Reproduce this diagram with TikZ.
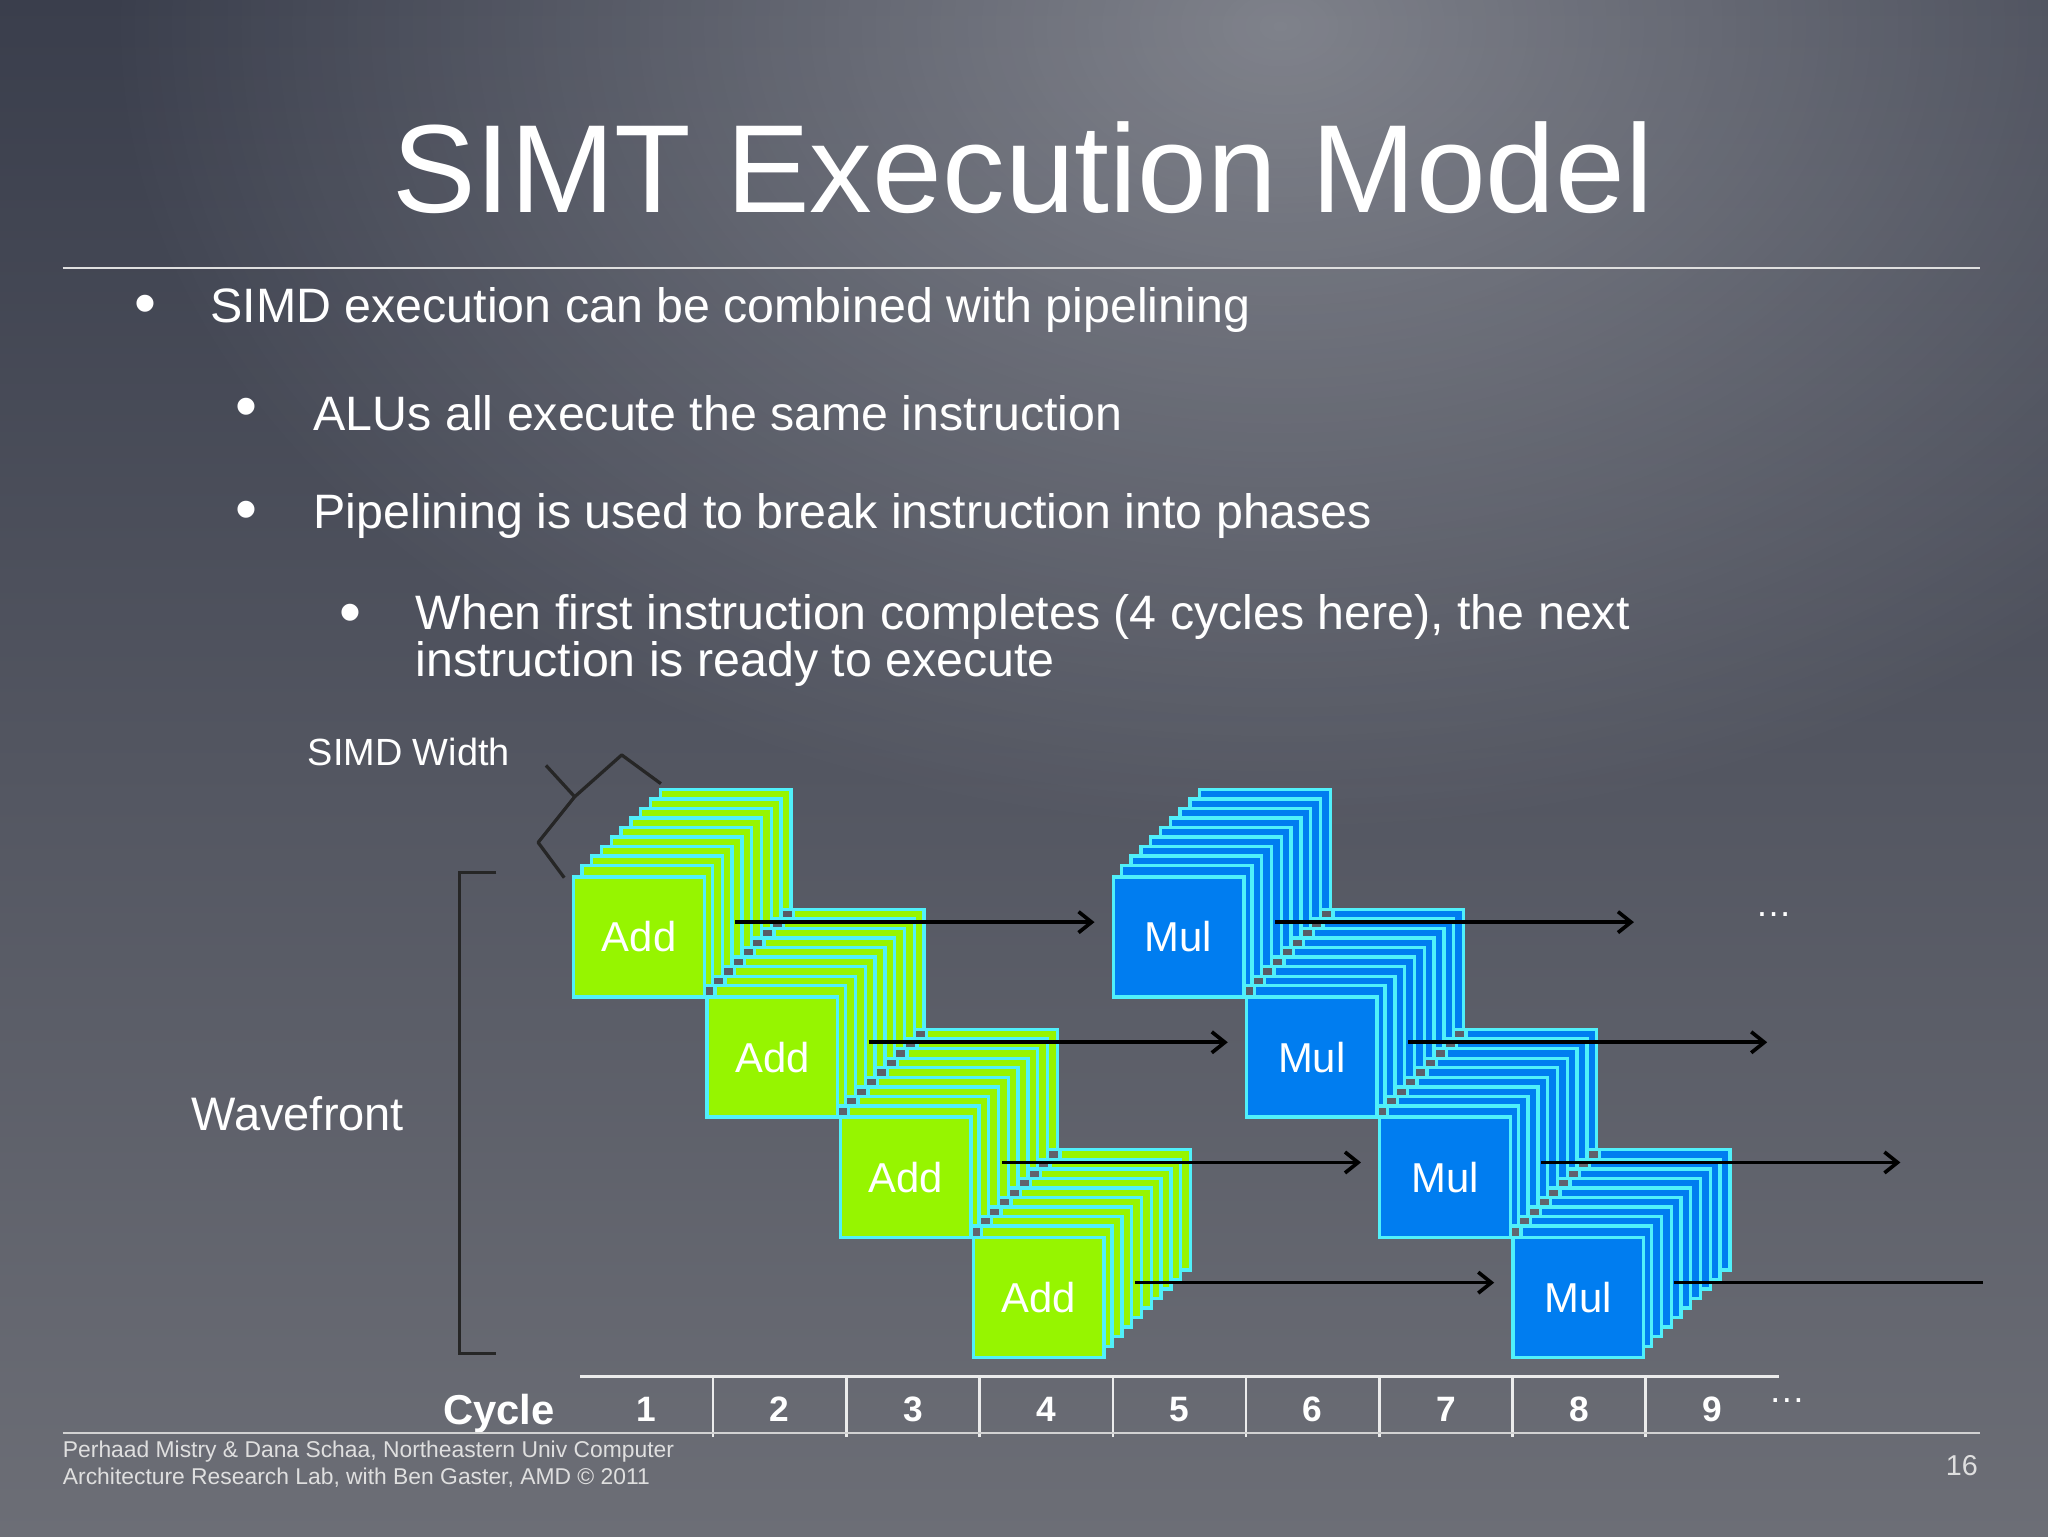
\documentclass[tikz,border=0pt]{standalone}
\usepackage{fontspec}
\setmainfont{Liberation Sans}
\usetikzlibrary{arrows.meta,fadings}
\definecolor{addg}{RGB}{150,245,0}
\definecolor{mulb}{RGB}{0,125,240}
\definecolor{cyanb}{RGB}{80,240,250}
\definecolor{bgtop}{RGB}{58,62,76}
\definecolor{bgbot}{RGB}{108,110,118}
\tikzfading[name=softc, inner color=transparent!0, outer color=transparent!100]
\tikzset{
 layer/.style={draw=cyanb,line width=2.6pt},
 lbl/.style={text=white,font=\fontsize{32}{36}\selectfont},
 arr/.style={-{Straight Barb[length=10pt,width=16pt]},line width=2.8pt,black},
 txt/.style={text=white,anchor=west,inner sep=0pt},
 bul/.style={text=white,font=\fontsize{48}{48}\selectfont},
 num/.style={text=white,font=\fontsize{27}{30}\selectfont\bfseries},
}
\begin{document}
\begin{tikzpicture}[x=1pt,y=-1pt]
\useasboundingbox (0,0) rectangle (1568,1176);
\shade[top color=bgtop,bottom color=bgbot] (0,0) rectangle (1568,1176);
\fill[white,fill opacity=0.35,path fading=softc] (980,20) ellipse (900pt and 620pt);
% title
\node[text=white,font=\fontsize{96}{110}\selectfont] (title) at (783,128) {SIMT Execution Model};
\draw[white!75!gray,line width=1.5pt] (48,205) -- (1516,205);
% bullets
\node[txt,font=\fontsize{37}{40}\selectfont] (b1) at (161,237) {SIMD execution can be combined with pipelining};
\node[bul] (d1) at (111,237) {•};
\node[txt,font=\fontsize{37}{40}\selectfont] (b2) at (240,316) {ALUs all execute the same instruction};
\node[bul] (d2) at (189,316) {•};
\node[txt,font=\fontsize{37}{40}\selectfont] (b3) at (240,395) {Pipelining is used to break instruction into phases};
\node[bul] (d3) at (189,395) {•};
\node[txt,font=\fontsize{37}{36}\selectfont,align=left,anchor=north west] (b4) at (318,455) {When first instruction completes (4 cycles here), the next\\instruction is ready to execute};
\node[bul] (d4) at (268,474) {•};
% labels
\node[text=white,font=\fontsize{29}{32}\selectfont] (sw) at (313,576) {SIMD Width};
\node[text=white,font=\fontsize{36}{40}\selectfont] (wf) at (228,853) {Wavefront};
\draw[black!85,line width=2.5pt,line join=round] (418,586) -- (440,610) -- (476,578) -- (506,600);
\draw[black!85,line width=2.5pt,line join=round] (440,610) -- (412,645) -- (432,672);
\draw[black!85,line width=2.5pt] (380,668) -- (352,668) -- (352,1036) -- (380,1036);
% stacks
\foreach \i in {0,...,3}{
  \pgfmathsetmacro{\xa}{438+102*\i}
  \pgfmathsetmacro{\ya}{670+92*\i}
  \pgfmathsetmacro{\xm}{851+102*\i}
  \foreach \j in {9,...,1}{
    \fill[addg,layer] (\xa+7.5*\j,\ya-7.3*\j) rectangle ++(100,92);
    \fill[mulb,layer] (\xm+7.5*\j,\ya-7.3*\j) rectangle ++(100,92);
  }
  \node[fill=addg,layer,minimum width=100pt,minimum height=92pt,anchor=north west,lbl] (add\i) at (\xa,\ya) {Add};
  \node[fill=mulb,layer,minimum width=100pt,minimum height=92pt,anchor=north west,lbl] (mul\i) at (\xm,\ya) {Mul};
  \coordinate (as\i) at (563+102*\i,706+92*\i);
  \coordinate (ae\i) at (838+102*\i,706+92*\i);
  \coordinate (ms\i) at (976+102*\i,706+92*\i);
  \coordinate (me\i) at (1251+102*\i,706+92*\i);
}
\foreach \i in {0,...,3}{\draw[arr] (as\i) -- (ae\i);}
\foreach \i in {0,1,2}{\draw[arr] (ms\i) -- (me\i);}
\coordinate (mlast) at (1518,982);
\draw[line width=2.8pt] (ms3) -- (mlast);
\node[text=white,font=\fontsize{28}{30}\selectfont] (dots1) at (1358,700) {\dots};
% cycle axis
\draw[white!85!gray,line width=2pt] (444,1054) -- (1362,1054);
\foreach \k in {1,...,8}{\draw[white!85!gray,line width=2pt] (444+102*\k,1054) -- (444+102*\k,1100);}
\foreach \k in {1,...,9}{\node[num] (n\k) at (393+102*\k,1079) {\k};}
\node[text=white,font=\fontsize{28}{30}\selectfont] (dots2) at (1368,1072) {\dots};
\node[text=white,font=\fontsize{32}{36}\selectfont\bfseries] (cyc) at (382,1082) {Cycle};
% footer
\draw[white!65!gray,line width=1.2pt] (48,1097) -- (1516,1097);
\node[txt,anchor=north west,align=left,text=white!75!gray,font=\fontsize{17.5}{21}\selectfont] (ft) at (48,1103) {Perhaad Mistry \& Dana Schaa, Northeastern Univ Computer\\Architecture Research Lab, with Ben Gaster, AMD © 2011};
\node[text=white!75!gray,font=\fontsize{22}{24}\selectfont] (pg) at (1502,1122) {16};
\end{tikzpicture}
\end{document}
